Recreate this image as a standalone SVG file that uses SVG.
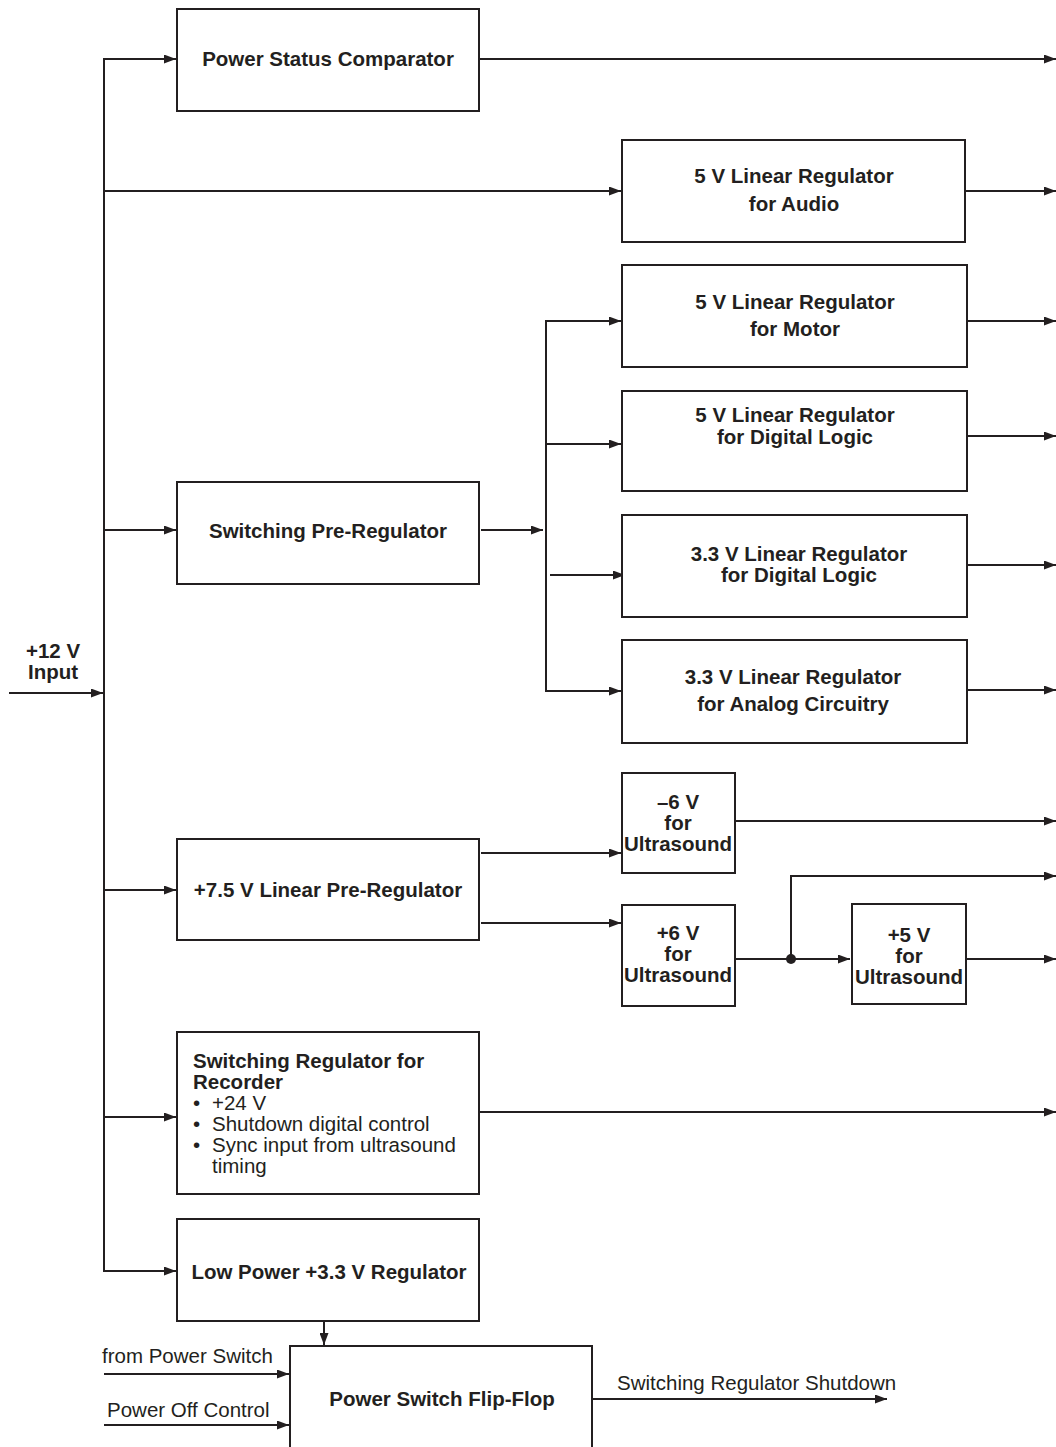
<svg xmlns="http://www.w3.org/2000/svg" width="1056" height="1447" viewBox="0 0 1056 1447">
<style>
.box{fill:#fff;stroke:#231f20;stroke-width:2}
.ln{fill:none;stroke:#231f20;stroke-width:2}
.b{font-family:"Liberation Sans",Arial,sans-serif;font-weight:bold;font-size:20.5px;fill:#231f20}
.r{font-family:"Liberation Sans",Arial,sans-serif;font-size:20.5px;fill:#231f20}
.c{text-anchor:middle}
</style>
<defs>
<marker id="ah" markerUnits="userSpaceOnUse" markerWidth="12" markerHeight="9" refX="12" refY="4.5" orient="auto">
<path d="M0,0 L12,4.5 L0,9 z" fill="#231f20"/>
</marker>
</defs>
<rect width="1056" height="1447" fill="#fff"/>

<g id="connectors">
<line class="ln" x1="104" y1="58" x2="104" y2="1272"/>
<line class="ln" x1="9" y1="693" x2="103" y2="693" marker-end="url(#ah)"/>
<line class="ln" x1="104" y1="59" x2="176" y2="59" marker-end="url(#ah)"/>
<line class="ln" x1="104" y1="191" x2="621" y2="191" marker-end="url(#ah)"/>
<line class="ln" x1="104" y1="530" x2="176" y2="530" marker-end="url(#ah)"/>
<line class="ln" x1="104" y1="890" x2="176" y2="890" marker-end="url(#ah)"/>
<line class="ln" x1="104" y1="1117" x2="176" y2="1117" marker-end="url(#ah)"/>
<line class="ln" x1="104" y1="1271" x2="176" y2="1271" marker-end="url(#ah)"/>
<line class="ln" x1="479" y1="59" x2="1056" y2="59" marker-end="url(#ah)"/>
<line class="ln" x1="965" y1="191" x2="1056" y2="191" marker-end="url(#ah)"/>
<line class="ln" x1="481" y1="530" x2="543" y2="530" marker-end="url(#ah)"/>
<line class="ln" x1="546" y1="321" x2="546" y2="691"/>
<line class="ln" x1="545" y1="321" x2="621" y2="321" marker-end="url(#ah)"/>
<line class="ln" x1="546" y1="444" x2="621" y2="444" marker-end="url(#ah)"/>
<line class="ln" x1="550" y1="575" x2="625" y2="575" marker-end="url(#ah)"/>
<line class="ln" x1="545" y1="691" x2="621" y2="691" marker-end="url(#ah)"/>
<line class="ln" x1="967" y1="321" x2="1056" y2="321" marker-end="url(#ah)"/>
<line class="ln" x1="967" y1="436" x2="1056" y2="436" marker-end="url(#ah)"/>
<line class="ln" x1="967" y1="565" x2="1056" y2="565" marker-end="url(#ah)"/>
<line class="ln" x1="967" y1="690" x2="1056" y2="690" marker-end="url(#ah)"/>
<line class="ln" x1="481" y1="853" x2="621" y2="853" marker-end="url(#ah)"/>
<line class="ln" x1="481" y1="923" x2="621" y2="923" marker-end="url(#ah)"/>
<line class="ln" x1="735" y1="821" x2="1056" y2="821" marker-end="url(#ah)"/>
<line class="ln" x1="735" y1="959" x2="850" y2="959" marker-end="url(#ah)"/>
<polyline class="ln" points="791,959 791,876 1056,876" marker-end="url(#ah)"/>
<circle cx="791" cy="959" r="5" fill="#231f20"/>
<line class="ln" x1="966" y1="959" x2="1056" y2="959" marker-end="url(#ah)"/>
<line class="ln" x1="479" y1="1112" x2="1056" y2="1112" marker-end="url(#ah)"/>
<line class="ln" x1="324" y1="1321" x2="324" y2="1345" marker-end="url(#ah)"/>
<line class="ln" x1="104" y1="1374" x2="289" y2="1374" marker-end="url(#ah)"/>
<line class="ln" x1="104" y1="1425" x2="289" y2="1425" marker-end="url(#ah)"/>
<line class="ln" x1="592" y1="1399" x2="887" y2="1399" marker-end="url(#ah)"/>
</g>

<g id="input-label">
<text class="b c" x="53" y="658">+12 V</text>
<text class="b c" x="53" y="679">Input</text>
</g>

<g id="power-status-comparator">
<rect class="box" x="177" y="9" width="302" height="102"/>
<text class="b c" x="328" y="66">Power Status Comparator</text>
</g>

<g id="reg-audio">
<rect class="box" x="622" y="140" width="343" height="102"/>
<text class="b c" x="794" y="183">5 V Linear Regulator</text>
<text class="b c" x="794" y="211">for Audio</text>
</g>

<g id="reg-motor">
<rect class="box" x="622" y="265" width="345" height="102"/>
<text class="b c" x="795" y="309">5 V Linear Regulator</text>
<text class="b c" x="795" y="336">for Motor</text>
</g>

<g id="reg-digital-5v">
<rect class="box" x="622" y="391" width="345" height="100"/>
<text class="b c" x="795" y="422">5 V Linear Regulator</text>
<text class="b c" x="795" y="444">for Digital Logic</text>
</g>

<g id="reg-digital-33v">
<rect class="box" x="622" y="515" width="345" height="102"/>
<text class="b c" x="799" y="561">3.3 V Linear Regulator</text>
<text class="b c" x="799" y="582">for Digital Logic</text>
</g>

<g id="reg-analog-33v">
<rect class="box" x="622" y="640" width="345" height="103"/>
<text class="b c" x="793" y="684">3.3 V Linear Regulator</text>
<text class="b c" x="793" y="711">for Analog Circuitry</text>
</g>

<g id="switching-pre-regulator">
<rect class="box" x="177" y="482" width="302" height="102"/>
<text class="b c" x="328" y="538">Switching Pre-Regulator</text>
</g>

<g id="linear-pre-regulator">
<rect class="box" x="177" y="839" width="302" height="101"/>
<text class="b c" x="328" y="897">+7.5 V Linear Pre-Regulator</text>
</g>

<g id="neg6v">
<rect class="box" x="622" y="773" width="113" height="100"/>
<text class="b c" x="678" y="809">–6 V</text>
<text class="b c" x="678" y="830">for</text>
<text class="b c" x="678" y="851">Ultrasound</text>
</g>

<g id="pos6v">
<rect class="box" x="622" y="905" width="113" height="101"/>
<text class="b c" x="678" y="940">+6 V</text>
<text class="b c" x="678" y="961">for</text>
<text class="b c" x="678" y="982">Ultrasound</text>
</g>

<g id="pos5v">
<rect class="box" x="852" y="904" width="114" height="100"/>
<text class="b c" x="909" y="942">+5 V</text>
<text class="b c" x="909" y="963">for</text>
<text class="b c" x="909" y="984">Ultrasound</text>
</g>

<g id="switching-regulator-recorder">
<rect class="box" x="177" y="1032" width="302" height="162"/>
<text class="b" x="193" y="1068">Switching Regulator for</text>
<text class="b" x="193" y="1089">Recorder</text>
<text class="r" x="193" y="1110">•</text><text class="r" x="212" y="1110">+24 V</text>
<text class="r" x="193" y="1131">•</text><text class="r" x="212" y="1131">Shutdown digital control</text>
<text class="r" x="193" y="1152">•</text><text class="r" x="212" y="1152">Sync input from ultrasound</text>
<text class="r" x="212" y="1173">timing</text>
</g>

<g id="low-power-regulator">
<rect class="box" x="177" y="1219" width="302" height="102"/>
<text class="b c" x="329" y="1279">Low Power +3.3 V Regulator</text>
</g>

<g id="power-switch-flip-flop">
<rect class="box" x="290" y="1346" width="302" height="130"/>
<text class="b c" x="442" y="1406">Power Switch Flip-Flop</text>
</g>

<g id="signal-labels">
<text class="r" x="102" y="1363">from Power Switch</text>
<text class="r" x="107" y="1417">Power Off Control</text>
<text class="r" x="617" y="1390">Switching Regulator Shutdown</text>
</g>
</svg>
